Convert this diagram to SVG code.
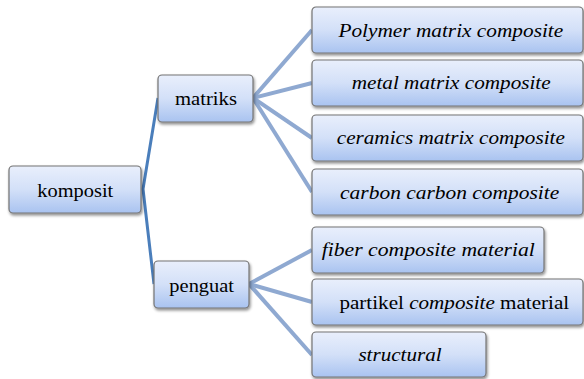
<svg xmlns="http://www.w3.org/2000/svg" width="584" height="379" viewBox="0 0 584 379">
<defs>
<linearGradient id="g" x1="0" y1="0" x2="0" y2="1">
<stop offset="0" stop-color="#E9EFFC"/>
<stop offset="0.5" stop-color="#D3E0F8"/>
<stop offset="1" stop-color="#A9C3F0"/>
</linearGradient>
<filter id="sh" x="-10%" y="-20%" width="125%" height="150%">
<feGaussianBlur in="SourceAlpha" stdDeviation="1.5"/>
<feOffset dx="1" dy="2" result="b"/>
<feComponentTransfer><feFuncA type="linear" slope="0.45"/></feComponentTransfer>
<feMerge><feMergeNode/><feMergeNode in="SourceGraphic"/></feMerge>
</filter>
</defs>
<style>
.box{fill:url(#g);stroke:#747474;stroke-width:1.2;filter:url(#sh)}
.c1{stroke:#4A7EBB;stroke-width:3;fill:none}
.c2{stroke:#8FA9D1;stroke-width:4;fill:none}
</style>
<g id="connectors">
<polyline class="c1" points="158,98 143,189 154,284"/>
<line class="c2" x1="253" y1="98" x2="312" y2="30"/>
<line class="c2" x1="253" y1="98" x2="312" y2="83"/>
<line class="c2" x1="253" y1="98" x2="312" y2="138"/>
<line class="c2" x1="253" y1="98" x2="312" y2="192"/>
<line class="c2" x1="249" y1="284" x2="312" y2="250"/>
<line class="c2" x1="249" y1="284" x2="312" y2="302"/>
<line class="c2" x1="249" y1="284" x2="312" y2="355"/>
</g>
<g font-family="Liberation Serif, Times New Roman, serif" font-size="18" fill="#000" text-anchor="middle">
<g id="komposit">
<rect class="box" x="9" y="166" width="132" height="47" rx="4"/>
<text transform="translate(75.3,197) scale(1.134,1)">komposit</text>
</g>
<g id="matriks">
<rect class="box" x="158" y="75" width="95" height="47" rx="4"/>
<text transform="translate(206,105) scale(1.148,1)">matriks</text>
</g>
<g id="penguat">
<rect class="box" x="154" y="261" width="95" height="47" rx="4"/>
<text transform="translate(201.7,292) scale(1.135,1)">penguat</text>
</g>
<g id="polymer">
<rect class="box" x="312" y="7" width="271" height="46" rx="4"/>
<text font-style="italic" transform="translate(450.8,37) scale(1.184,1)">Polymer matrix composite</text>
</g>
<g id="metal">
<rect class="box" x="312" y="60" width="271" height="46" rx="4"/>
<text font-style="italic" transform="translate(451.2,89) scale(1.178,1)">metal matrix composite</text>
</g>
<g id="ceramics">
<rect class="box" x="312" y="115" width="271" height="46" rx="4"/>
<text font-style="italic" transform="translate(450.8,143.5) scale(1.177,1)">ceramics matrix composite</text>
</g>
<g id="carbon">
<rect class="box" x="312" y="169" width="271" height="46" rx="4"/>
<text font-style="italic" transform="translate(449.7,198.5) scale(1.192,1)">carbon carbon composite</text>
</g>
<g id="fiber">
<rect class="box" x="312" y="227" width="232" height="46" rx="4"/>
<text font-style="italic" transform="translate(428.3,256) scale(1.205,1)">fiber composite material</text>
</g>
<g id="partikel">
<rect class="box" x="312" y="279" width="271" height="46" rx="4"/>
<text transform="translate(454.3,308.5) scale(1.174,1)">partikel <tspan font-style="italic">composite</tspan> material</text>
</g>
<g id="structural">
<rect class="box" x="312" y="332" width="174" height="45" rx="4"/>
<text font-style="italic" transform="translate(400,361) scale(1.173,1)">structural</text>
</g>
</g>
</svg>
